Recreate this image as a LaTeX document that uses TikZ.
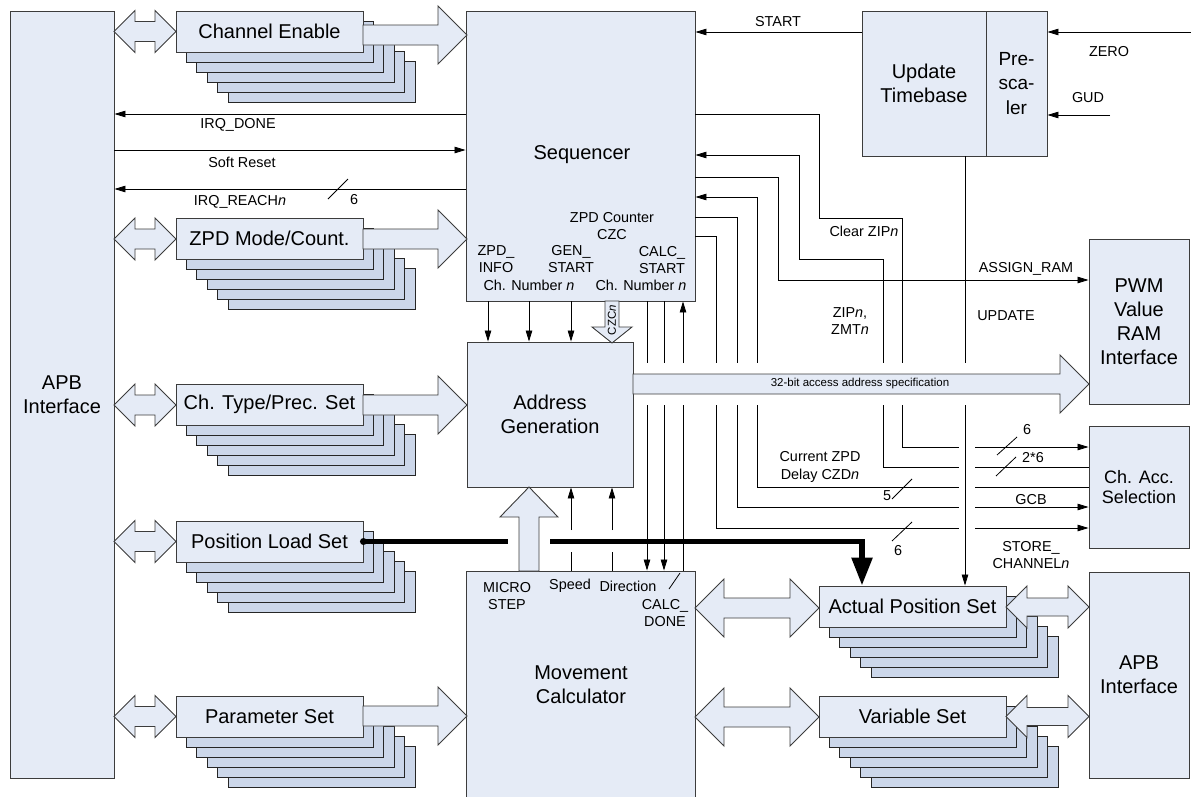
\documentclass[tikz,border=0pt]{standalone}
\usepackage{fontspec}
\setmainfont{Liberation Sans}
\usetikzlibrary{arrows.meta}

\definecolor{boxblue}{RGB}{229,235,246}
\definecolor{cardblue}{RGB}{204,215,234}
\definecolor{edgegray}{RGB}{60,60,60}

% channel register stack: name, left x, top y, label
\newcommand{\chstack}[4]{%
  \foreach \k in {5,4,3,2,1}
    {\draw[backcard] (#2+10.4*\k,#3+10*\k) rectangle ++(187,41);}
  \node[card] (#1) at (#2+93.5,#3+20.5) {#4};}

% hollow two-way arrow: from x, to x, mid y, head length, head half, shaft half
\newcommand{\dualarrow}[6]{%
  \draw[fat] (#1,#3) -- (#1+#4,#3-#5) -- (#1+#4,#3-#6) -- (#2-#4,#3-#6) -- (#2-#4,#3-#5)
    -- (#2,#3) -- (#2-#4,#3+#5) -- (#2-#4,#3+#6) -- (#1+#4,#3+#6) -- (#1+#4,#3+#5) -- cycle;}

% hollow one-way arrow to the right: from x, to x, mid y, head half, shaft half
\newcommand{\fatarrow}[5]{%
  \draw[fat] (#1,#3-#5) -- (#2-#4,#3-#5) -- (#2-#4,#3-#4) -- (#2,#3)
    -- (#2-#4,#3+#4) -- (#2-#4,#3+#5) -- (#1,#3+#5) -- cycle;}

\begin{document}
\begin{tikzpicture}[x=1pt,y=-1pt,
  blk/.style={draw=edgegray,fill=boxblue,line width=0.9pt,inner sep=0pt,align=center,
    font=\fontsize{20}{24}\selectfont},
  card/.style={draw=edgegray,fill=boxblue,line width=0.9pt,inner sep=0pt,
    minimum width=187pt,minimum height=41pt,font=\fontsize{20}{24}\selectfont},
  backcard/.style={draw=black!85,fill=cardblue,line width=0.9pt},
  fat/.style={draw=edgegray,fill=boxblue,line width=0.9pt},
  sig/.style={draw=black,line width=0.8pt},
  sigout/.style={-{Triangle[length=11pt,width=6.5pt]}},
  sigin/.style={{Triangle[length=11pt,width=6.5pt]}-},
  lbl/.style={inner sep=0pt,align=center,font=\fontsize{14.4}{17.5}\selectfont},
  bus/.style={line width=5.5pt,draw=black}]
\useasboundingbox (0,0) rectangle (1191,796);

% main blocks
\node[blk,minimum width=104pt,minimum height=767pt] (apbl) at (62,394.5) {APB\\Interface};
\node[blk,minimum width=229pt,minimum height=290pt] (seq) at (580.5,156) {};
\node[font=\fontsize{20}{24}\selectfont] at (582,155) {Sequencer};
\node[blk,minimum width=166pt,minimum height=145pt] (addr) at (550,414.5) {Address\\Generation};
\node[blk,minimum width=229pt,minimum height=229pt] (move) at (580.5,685.5) {};
\node[font=\fontsize{20}{24}\selectfont,align=center] at (581,684.5) {Movement\\Calculator};
\node[blk,minimum width=124pt,minimum height=145pt] (timebase) at (924,83.5) {Update\\Timebase};
\node[blk,minimum width=61pt,minimum height=145pt,font=\fontsize{19}{24.5}\selectfont] (presc) at (1016.5,83.5) {Pre-\\sca-\\ler};
\node[blk,minimum width=100pt,minimum height=165pt] (pwm) at (1139,321.5) {PWM\\Value\\RAM\\Interface};
\node[blk,minimum width=100pt,minimum height=122pt,font=\fontsize{18}{20}\selectfont] (chacc) at (1139,487) {Ch. Acc.\\Selection};
\node[blk,minimum width=100pt,minimum height=206pt] (apbr) at (1139,675) {APB\\Interface};

% channel register stacks
\chstack{chen}{176}{11}{Channel Enable}
\chstack{zpd}{176}{218}{ZPD Mode/Count.}
\chstack{chtype}{176}{384}{Ch. Type/Prec. Set}
\chstack{posload}{176}{521}{Position Load Set}
\chstack{param}{176}{696}{Parameter Set}
\chstack{actpos}{819}{586}{Actual Position Set}
\chstack{varset}{819}{696}{Variable Set}

% register access arrows
\foreach \yy in {31.5,239,405,541.5,716.5}
  {\dualarrow{114}{176}{\yy}{21}{21}{10}}
\fatarrow{363}{467}{35}{29}{10}
\fatarrow{363}{467}{239}{29}{10}
\fatarrow{363}{467}{405}{29}{10}
\fatarrow{363}{467}{716}{29}{10}
\dualarrow{695}{819}{608}{29}{29}{10}
\dualarrow{695}{819}{717}{29}{29}{10}
\dualarrow{1006}{1089}{607}{21}{21}{9}
\dualarrow{1006}{1089}{716.5}{21}{21}{9}

% address bus to the RAM interface
\fatarrow{633}{1089}{384}{29}{10}
\node[inner sep=0pt,font=\fontsize{11.5}{13}\selectfont] at (860,384) {32-bit access address specification};

% CZCn and MICRO STEP
\draw[fat] (605,301) -- (619,301) -- (619,327) -- (632,327) -- (612,343) -- (592,327) -- (605,327) -- cycle;
\node[rotate=90,inner sep=0pt,font=\fontsize{11.5}{13}\selectfont] at (612,320) {CZC\textit{n}};
\draw[fat] (519,571) -- (519,517) -- (500,517) -- (529,487) -- (558,517) -- (539,517) -- (539,571) -- cycle;

% APB side signals
\draw[sig,sigout] (seq.west |- 0,114) -- (apbl.east |- 0,114);
\draw[sig,sigout] (apbl.east |- 0,150) -- (seq.west |- 0,150);
\draw[sig,sigout] (seq.west |- 0,189) -- (apbl.east |- 0,189);
\draw[sig] (328,199) -- (348,179);
\node[lbl] at (238,125) {IRQ\_DONE};
\node[lbl] at (242,162) {Soft Reset};
\node[lbl] at (240,202) {IRQ\_REACH\textit{n}};
\node[lbl] at (354,200) {6};

% timebase inputs
\draw[sig,sigout] (timebase.west |- 0,32) -- (seq.east |- 0,32);
\draw[sig,sigout] (1191,32) -- (presc.east |- 0,32);
\draw[sig,sigout] (1110,115) -- (presc.east |- 0,115);
\node[lbl] at (778,22) {START};
\node[lbl] at (1109,52) {ZERO};
\node[lbl] at (1088,98) {GUD};

% sequencer to address generation
\foreach \xx in {488,529,571}
  {\draw[sig,sigout] (\xx,0 |- seq.south) -- (\xx,0 |- addr.north);}

% sequencer to movement calculator
\foreach \xx in {647,664} {
  \draw[sig] (\xx,0 |- seq.south) -- (\xx,363);
  \draw[sig,sigout] (\xx,405) -- (\xx,0 |- move.north);
}
\draw[sig] (683,0 |- move.north) -- (683,405);
\draw[sig,sigout] (683,363) -- (683,0 |- seq.south);
\draw[sig] (669,589) -- (680,573);

% movement calculator to address generation
\foreach \xx in {571,612} {
  \draw[sig] (\xx,0 |- move.north) -- (\xx,552);
  \draw[sig,sigout] (\xx,530) -- (\xx,0 |- addr.south);
}

% sequencer to channel access selection
\draw[sig] (seq.east |- 0,236) -| (716,363);
\draw[sig] (716,405) |- (959,528);
\draw[sig,sigout] (975,528) -- (chacc.west |- 0,528);
\draw[sig] (seq.east |- 0,217) -| (737,363);
\draw[sig] (737,405) |- (959,507);
\draw[sig,sigout] (975,507) -- (chacc.west |- 0,507);
\draw[sig,sigin] (seq.east |- 0,197) -| (757,363);
\draw[sig] (757,405) |- (959,487);
\draw[sig] (975,487) -- (chacc.west |- 0,487);
\draw[sig,sigout] (seq.east |- 0,177) -| (778,280) -- (pwm.west |- 0,280);
\draw[sig,sigin] (seq.east |- 0,155) -| (799,259) -| (883,363);
\draw[sig] (883,405) |- (959,467);
\draw[sig] (975,467) -- (chacc.west |- 0,467);
\draw[sig] (seq.east |- 0,114) -| (819,218) -| (902,363);
\draw[sig] (902,405) |- (959,447);
\draw[sig,sigout] (975,447) -- (chacc.west |- 0,447);

% update strobe
\draw[sig] (965,0 |- timebase.south) -- (965,363);
\draw[sig,sigout] (965,405) -- (965,0 |- actpos.north);

% bus width marks
\draw[sig] (997,455) -- (1017,437);
\draw[sig] (996,476) -- (1016,457);
\draw[sig] (892,499) -- (912,479);
\draw[sig] (892,541) -- (912,522);
\node[lbl] at (1027,430) {6};
\node[lbl] at (1033,458) {2*6};
\node[lbl] at (887,496) {5};
\node[lbl] at (898,551) {6};

% signal names
\node[lbl] at (612,226) {ZPD Counter\\CZC};
\node[lbl] at (496,259) {ZPD\_\\INFO};
\node[lbl] at (571,259) {GEN\_\\START};
\node[lbl] at (662,260) {CALC\_\\START};
\node[lbl] at (529,285) {Ch. Number \textit{n}};
\node[lbl] at (641,285) {Ch. Number \textit{n}};
\node[lbl] at (864,231) {Clear ZIP\textit{n}};
\node[lbl] at (850,321) {ZIP\textit{n},\\ZMT\textit{n}};
\node[lbl] at (1026,269) {ASSIGN\_RAM};
\node[lbl] at (1006,316) {UPDATE};
\node[lbl] at (820,467) {Current ZPD\\Delay CZD\textit{n}};
\node[lbl] at (1031,500) {GCB};
\node[lbl] at (1031,555) {STORE\_\\CHANNEL\textit{n}};
\node[lbl] at (507,596) {MICRO\\STEP};
\node[lbl] at (570,586) {Speed};
\node[lbl] at (628,586) {Direction};
\node[lbl] at (665,613) {CALC\_\\DONE};

% position load path
\draw[bus] (posload.east) -- (508,541.5);
\draw[bus,-{Triangle[length=28pt,width=20pt]}] (550,541.5) -| (862,0 |- actpos.north);
\fill (posload.east) circle[radius=3.5pt];
\end{tikzpicture}
\end{document}
